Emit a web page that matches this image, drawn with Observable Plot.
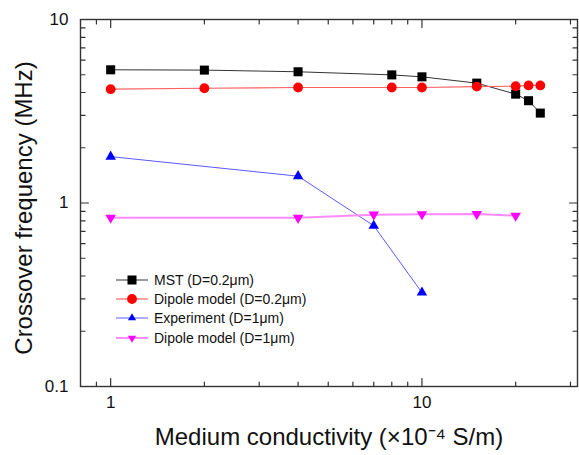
<!DOCTYPE html>
<html><head><meta charset="utf-8">
<script src="https://cdn.jsdelivr.net/npm/d3@7"></script>
<script src="https://cdn.jsdelivr.net/npm/@observablehq/plot@0.6"></script>
<style>
body{margin:0;background:#fff;font-family:"Liberation Sans",Arial,sans-serif;}
#wrap{position:relative;width:579px;height:455px;background:#fff;}
#legend{position:absolute;left:116px;top:270px;font-size:14px;color:#111;}
.row{display:flex;align-items:center;height:19.3px;white-space:nowrap;}
.row svg{margin-right:4px;}
</style></head><body><div id="wrap"></div>
<script>
// ---- data ----
const xSmall = [1, 2, 4, 8, 10, 15, 20, 22, 24];
const mstSmall = [5.32, 5.30, 5.19, 4.99, 4.87, 4.50, 3.92, 3.61, 3.09];
const dipoleSmall = [4.17, 4.22, 4.26, 4.26, 4.26, 4.31, 4.33, 4.37, 4.37];
const xExperiment = [1, 4, 7, 10];
const experimentLarge = [1.79, 1.40, 0.752, 0.325];
const xDipoleLarge = [1, 4, 7, 10, 15, 20];
const dipoleLarge = [0.832, 0.83, 0.864, 0.869, 0.87, 0.853];

const seriesNames = ["MST (D=0.2\u03bcm)", "Dipole model (D=0.2\u03bcm)", "Experiment (D=1\u03bcm)", "Dipole model (D=1\u03bcm)"];
const xMajorTicks = [1, 10];
const xMajorLabels = ["1", "10"];
const xMinorTicks = [0.9, 2, 3, 4, 5, 6, 7, 8, 9, 20, 30];
const yMajorTicks = [0.1, 1, 10];
const yMajorLabels = ["0.1", "1", "10"];
const yMinorTicks = [0.2, 0.3, 0.4, 0.5, 0.6, 0.7, 0.8, 0.9, 2, 3, 4, 5, 6, 7, 8, 9];
const xTitle = "Medium conductivity (\u00d710\u207b\u2074 S/m)";
const yTitle = "Crossover frequency (MHz)";

// ---- styles ----
const styles = [
  {line: "#333333", lw: 1, fill: "#000000", symbol: "square", r: 5.1, rot: 0},
  {line: "#ff6060", lw: 1.2, fill: "#ff0000", symbol: "circle", r: 4.9, rot: 0},
  {line: "#5a5aff", lw: 1, fill: "#0000ff", symbol: "triangle", r: 3.9, rot: 0},
  {line: "#ff8cff", lw: 2, fill: "#ff00ff", symbol: "triangle", r: 3.9, rot: 180}
];

const tables = [
  xSmall.map((x, i) => ({x, y: mstSmall[i]})),
  xSmall.map((x, i) => ({x, y: dipoleSmall[i]})),
  xExperiment.map((x, i) => ({x, y: experimentLarge[i]})),
  xDipoleLarge.map((x, i) => ({x, y: dipoleLarge[i]}))
];

const tickShape = {draw(ctx, l) { ctx.moveTo(0, 0); ctx.lineTo(0, -l); }};
const axisColor = "#333";
function ticks(values, ch, anchor, rotate, len) {
  const o = {length: len, rotate, anchor: "start", shape: tickShape, stroke: axisColor, strokeWidth: 1.2, frameAnchor: anchor};
  o[ch] = d => d;
  return Plot.vector(values, o);
}

const seriesMarks = [];
tables.forEach((t, k) => {
  const s = styles[k];
  seriesMarks.push(Plot.line(t, {x: "x", y: "y", stroke: s.line, strokeWidth: s.lw}));
});
tables.forEach((t, k) => {
  const s = styles[k];
  seriesMarks.push(Plot.dot(t, {x: "x", y: "y", symbol: s.symbol, r: s.r, fill: s.fill, stroke: "none", rotate: s.rot}));
});

const chart = Plot.plot({
  width: 579, height: 455,
  marginLeft: 80, marginRight: 2, marginTop: 19, marginBottom: 69,
  x: {type: "log", domain: [0.8, 31.6], axis: null},
  y: {type: "log", domain: [0.1, 10], axis: null},
  style: {fontFamily: '"Liberation Sans", Arial, sans-serif', background: "#fff", color: "#111"},
  marks: [
    ...seriesMarks,
    ticks(xMajorTicks, "x", "bottom", 0, 8),
    ticks(xMinorTicks, "x", "bottom", 0, 4.5),
    ticks(xMajorTicks, "x", "top", 180, 8),
    ticks(xMinorTicks, "x", "top", 180, 4.5),
    ticks(yMajorTicks, "y", "left", 90, 8),
    ticks(yMinorTicks, "y", "left", 90, 4.5),
    ticks(yMajorTicks, "y", "right", -90, 8),
    ticks(yMinorTicks, "y", "right", -90, 4.5),
    Plot.frame({stroke: axisColor, strokeWidth: 1.4}),
    Plot.text(xMajorTicks, {x: d => d, text: (d, i) => xMajorLabels[i], frameAnchor: "bottom", dy: 16.5, textAnchor: "middle", lineAnchor: "middle", fontSize: 17, fill: "#111"}),
    Plot.text(yMajorTicks, {y: d => d, text: (d, i) => yMajorLabels[i], frameAnchor: "left", dx: -12, textAnchor: "end", lineAnchor: "middle", fontSize: 17, fill: "#111"}),
    Plot.text([xTitle], {frameAnchor: "bottom", dy: 51, textAnchor: "middle", lineAnchor: "middle", fontSize: 24, fill: "#111"}),
    Plot.text([yTitle], {frameAnchor: "left", rotate: -90, dx: -56, dy: 5, textAnchor: "middle", lineAnchor: "middle", fontSize: 24, fill: "#111"})
  ]
});

const wrap = document.getElementById("wrap");
wrap.appendChild(chart);

// legend
const legend = document.createElement("div");
legend.id = "legend";
seriesNames.forEach((name, k) => {
  const s = styles[k];
  const row = document.createElement("div");
  row.className = "row";
  const sym = d3.symbol(s.symbol === "square" ? d3.symbolSquare : s.symbol === "circle" ? d3.symbolCircle : d3.symbolTriangle2, Math.PI * s.r * s.r)();
  row.innerHTML = `<svg width="34" height="14"><line x1="0" x2="32" y1="7" y2="7" stroke="${s.line}" stroke-width="${s.lw}"/><path d="${sym}" transform="translate(16,7) rotate(${s.rot})" fill="${s.fill}"/></svg><span>${name}</span>`;
  legend.appendChild(row);
});
wrap.appendChild(legend);
</script>
</body></html>
